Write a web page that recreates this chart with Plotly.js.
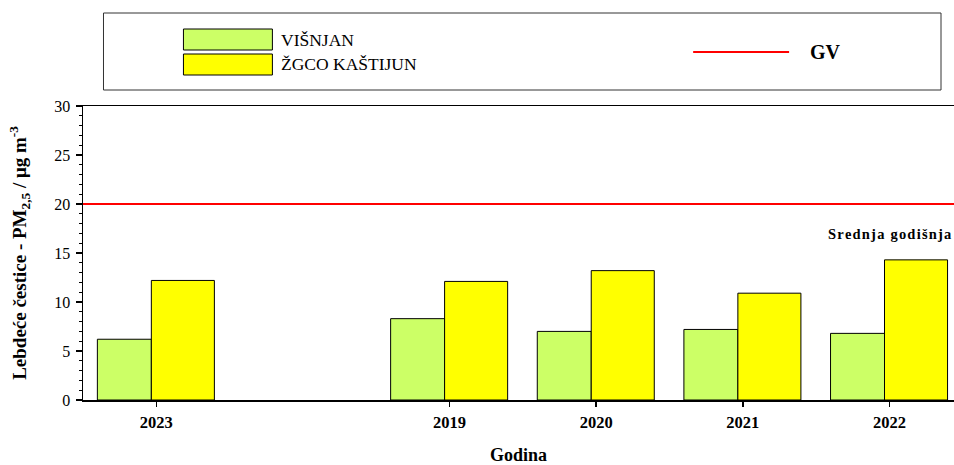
<!DOCTYPE html>
<html>
<head>
<meta charset="utf-8">
<script src="https://cdn.plot.ly/plotly-3.0.1.min.js"></script>
<style>html,body{margin:0;padding:0;background:#fff;}#chart{width:954px;height:465px;}</style>
</head>
<body>
<div id="chart"></div>
<script>
// ---- data ----
const categories = ['2023', '', '2019', '2020', '2021', '2022'];
const visnjan = [6.2, null, 8.3, 7.0, 7.2, 6.8];
const zgcoKastijun = [12.2, null, 12.1, 13.2, 10.9, 14.3];
const seriesNames = ['VIŠNJAN', 'ŽGCO KAŠTIJUN'];
const gvLimit = 20;
const gvLabel = 'GV';
const noteText = 'Srednja godišnja';
const yTicks = [0, 5, 10, 15, 20, 25, 30];

// ---- layout helpers (pixel -> paper) ----
const L = 82.5, R = 954, T = 106, B = 400;
const px = x => (x - L) / (R - L);
const py = y => (B - y) / (B - T);

const xIdx = categories.map((c, i) => i);
const serif = 'Liberation Serif, Times New Roman, serif';

const traces = [
  {
    type: 'bar', name: seriesNames[0], x: xIdx, y: visnjan,
    offset: -0.402, width: 0.368,
    marker: {color: '#CCFF66', line: {color: '#000', width: 1}},
    showlegend: false, hoverinfo: 'y'
  },
  {
    type: 'bar', name: seriesNames[1], x: xIdx, y: zgcoKastijun,
    offset: -0.034, width: 0.43,
    marker: {color: '#FFFF00', line: {color: '#000', width: 1}},
    showlegend: false, hoverinfo: 'y'
  }
];

const shapes = [
  // GV limit line
  {type: 'line', xref: 'paper', yref: 'y', x0: 0, x1: 1, y0: gvLimit, y1: gvLimit,
   line: {color: '#FF0000', width: 2}},
  // legend frame
  {type: 'rect', xref: 'paper', yref: 'paper', x0: px(103), x1: px(941), y0: py(90), y1: py(13),
   line: {color: '#333', width: 1}, fillcolor: 'rgba(0,0,0,0)'},
  // legend swatches
  {type: 'rect', xref: 'paper', yref: 'paper', x0: px(183), x1: px(272), y0: py(50), y1: py(29),
   line: {color: '#000', width: 1}, fillcolor: '#CCFF66'},
  {type: 'rect', xref: 'paper', yref: 'paper', x0: px(183), x1: px(272), y0: py(75), y1: py(54),
   line: {color: '#000', width: 1}, fillcolor: '#FFFF00'},
  // legend GV line
  {type: 'line', xref: 'paper', yref: 'paper', x0: px(693), x1: px(789), y0: py(52), y1: py(52),
   line: {color: '#FF0000', width: 2}}
];

const annotations = [
  {xref: 'paper', yref: 'paper', x: px(279), y: py(40), xanchor: 'left', yanchor: 'middle',
   text: seriesNames[0], showarrow: false, font: {family: serif, size: 17.5, color: '#000'}},
  {xref: 'paper', yref: 'paper', x: px(279), y: py(64), xanchor: 'left', yanchor: 'middle',
   text: seriesNames[1], showarrow: false, font: {family: serif, size: 17.5, color: '#000'}},
  {xref: 'paper', yref: 'paper', x: px(808), y: py(52), xanchor: 'left', yanchor: 'middle',
   text: '<b>' + gvLabel + '</b>', showarrow: false, font: {family: serif, size: 20, color: '#000'}},
  {xref: 'paper', yref: 'paper', x: px(954), y: py(234), xanchor: 'right', yanchor: 'middle',
   text: '<b>' + noteText.split('').join('\u200A') + '</b>', showarrow: false,
   font: {family: serif, size: 14.5, color: '#000'}}
];

const layout = {
  width: 954, height: 465,
  margin: {l: L, r: 0, t: T, b: 465 - B},
  paper_bgcolor: '#fff', plot_bgcolor: '#fff',
  barmode: 'overlay',
  font: {family: serif, color: '#000'},
  xaxis: {
    range: [-0.5, 5.44],
    tickmode: 'array', tickvals: xIdx.filter(i => categories[i] !== ''),
    ticktext: categories.filter(c => c !== ''),
    ticks: 'outside', ticklen: 5, tickwidth: 1.5, tickcolor: '#000',
    showline: true, linecolor: '#000', linewidth: 1.5, mirror: true,
    showgrid: false, zeroline: false, ticklabelstandoff: 2,
    tickfont: {family: serif, size: 16.5, color: '#000', weight: 'bold'},
    title: {text: '<b>Godina</b>', font: {family: serif, size: 18, color: '#000'}, standoff: 26}
  },
  yaxis: {
    range: [0, 30], tickmode: 'array', tickvals: yTicks,
    ticks: 'outside', ticklen: 6, tickwidth: 1.5, tickcolor: '#000',
    minor: {dtick: 1, ticks: 'outside', ticklen: 3, tickwidth: 1, tickcolor: '#000', showgrid: false},
    showline: true, linecolor: '#000', linewidth: 1.5,
    showgrid: false, zeroline: false, ticklabelstandoff: 2,
    tickfont: {family: serif, size: 16, color: '#000'},
    title: {text: '<b>Lebdeće čestice - PM<sub>2,5</sub> / μg m<sup>-3</sup></b>',
            font: {family: serif, size: 19, color: '#000'}, standoff: 22}
  },
  shapes: shapes,
  annotations: annotations,
  showlegend: false
};

Plotly.newPlot('chart', traces, layout, {displayModeBar: false, staticPlot: true});
</script>
</body>
</html>
